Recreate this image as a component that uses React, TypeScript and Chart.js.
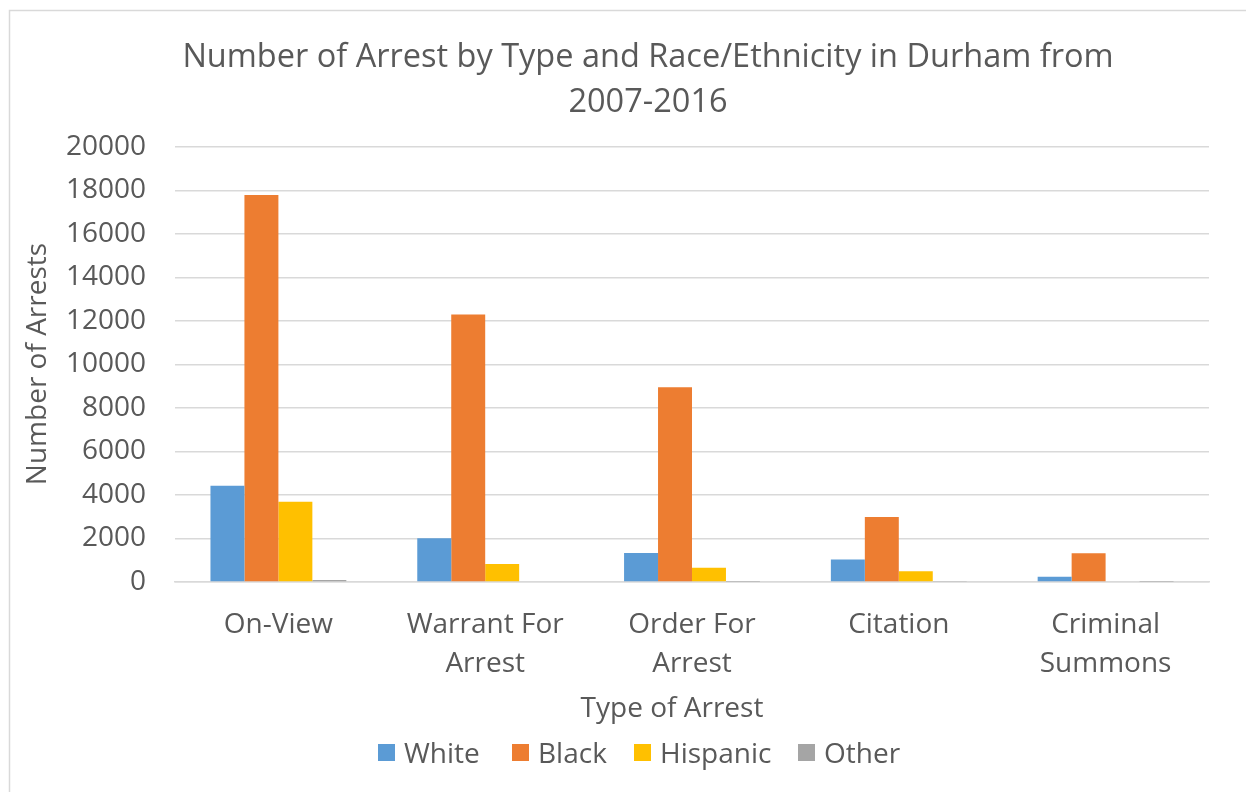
import React, { useEffect, useRef } from "react";
import { Chart, registerables } from "chart.js";

Chart.register(...registerables);

const titleLines = ["Number of Arrest by Type and Race/Ethnicity in Durham from", "2007-2016"];
const xAxisTitle = "Type of Arrest";
const yAxisTitle = "Number of Arrests";
const categories: string[][] = [
  ["On-View"],
  ["Warrant For", "Arrest"],
  ["Order For", "Arrest"],
  ["Citation"],
  ["Criminal", "Summons"],
];
const seriesNames = ["White", "Black", "Hispanic", "Other"];
const white = [4420, 2010, 1330, 1030, 240];
const black = [17790, 12300, 8950, 2990, 1320];
const hispanic = [3690, 830, 650, 500, 40];
const other = [90, 40, 15, 20, 10];
const seriesColors = ["#5B9BD5", "#ED7D31", "#FFC000", "#A5A5A5"];
const yMin = 0;
const yMax = 20000;
const yStep = 2000;

const FONT = "'Open Sans', 'Noto Sans', sans-serif";
const TEXT = "#595959";
const GRID = "#D9D9D9";

const decorPlugin = {
  id: "decor",
  beforeDraw(chart: any) {
    const ctx = chart.ctx;
    ctx.save();
    ctx.fillStyle = "#FFFFFF";
    ctx.fillRect(0, 0, chart.width, chart.height);
    ctx.strokeStyle = GRID;
    ctx.lineWidth = 1.5;
    ctx.beginPath();
    ctx.moveTo(9.5, chart.height);
    ctx.lineTo(9.5, 10.5);
    ctx.lineTo(chart.width, 10.5);
    ctx.stroke();
    ctx.restore();
  },
  afterDraw(chart: any) {
    const ctx = chart.ctx;
    ctx.save();
    ctx.fillStyle = TEXT;
    ctx.textBaseline = "alphabetic";
    ctx.textAlign = "center";
    // title
    ctx.font = `32.5px ${FONT}`;
    ctx.fillText(titleLines[0], 648, 67);
    ctx.fillText(titleLines[1], 648, 112);
    // x axis title
    ctx.font = `28px ${FONT}`;
    ctx.fillText(xAxisTitle, 672, 717);
    // y axis title
    ctx.save();
    ctx.translate(38, 364);
    ctx.rotate(-Math.PI / 2);
    ctx.textBaseline = "middle";
    ctx.fillText(yAxisTitle, 0, 0);
    ctx.restore();
    // legend
    ctx.font = `28px ${FONT}`;
    ctx.textAlign = "left";
    const boxX = [378, 512, 634, 798];
    chart.data.datasets.forEach((ds: any, i: number) => {
      ctx.fillStyle = ds.backgroundColor;
      ctx.fillRect(boxX[i], 744, 17, 17);
      ctx.fillStyle = TEXT;
      ctx.fillText(ds.label, boxX[i] + 26, 763);
    });
    ctx.restore();
  },
};

export default function App() {
  const ref = useRef<HTMLCanvasElement | null>(null);
  useEffect(() => {
    if (!ref.current) return;
    const values = [white, black, hispanic, other];
    const chart = new Chart(ref.current, {
      type: "bar",
      data: {
        labels: categories,
        datasets: seriesNames.map((name, i) => ({
          label: name,
          data: values[i],
          backgroundColor: seriesColors[i],
          borderWidth: 0,
          categoryPercentage: 0.657,
          barPercentage: 1.0,
        })),
      },
      options: {
        responsive: false,
        animation: false,
        layout: { padding: { top: 147, left: 0, right: 37, bottom: 110 } },
        plugins: {
          legend: { display: false },
          title: { display: false },
          tooltip: { enabled: false },
        },
        scales: {
          x: {
            grid: { display: false, drawTicks: false },
            border: { display: true, color: GRID, width: 1.5 },
            ticks: {
              color: TEXT,
              font: { family: FONT, size: 28, lineHeight: 1.39 },
              padding: 24,
              maxRotation: 0,
              autoSkip: false,
            },
            afterFit: (scale: any) => {
              scale.height = 100;
            },
          },
          y: {
            min: yMin,
            max: yMax,
            grid: { color: GRID, lineWidth: 1.5, drawTicks: false },
            border: { display: false },
            ticks: {
              stepSize: yStep,
              color: TEXT,
              font: { family: FONT, size: 28 },
              padding: 29,
              callback: (v: any) => String(v),
            },
            afterFit: (scale: any) => {
              scale.width = 175;
            },
          },
        },
      },
      plugins: [decorPlugin],
    });
    return () => chart.destroy();
  }, []);
  return (
    <div style={{ position: "absolute", left: 0, top: 0, width: 1246, height: 792, background: "#fff" }}>
      <canvas ref={ref} width={1246} height={792} style={{ display: "block", width: 1246, height: 792 }} />
    </div>
  );
}
